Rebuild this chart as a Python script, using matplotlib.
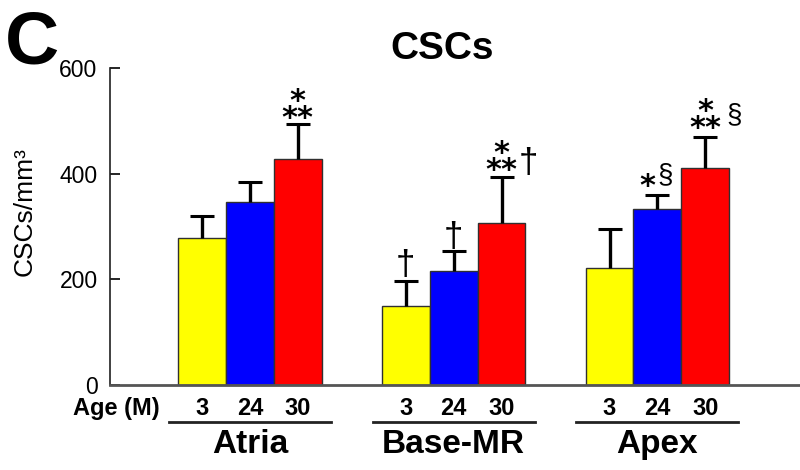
import matplotlib
matplotlib.use('Agg')
import matplotlib.pyplot as plt
import matplotlib.transforms as mtrans
import numpy as np

plt.rcParams['font.family'] = ['Liberation Sans', 'DejaVu Sans']

# ---- data ----
regions = ['Atria', 'Base-MR', 'Apex']
ages = ['3', '24', '30']
age3_mean = [278, 150, 221]
age3_err = [42, 47, 74]
age24_mean = [346, 216, 333]
age24_err = [38, 38, 27]
age30_mean = [428, 307, 411]
age30_err = [66, 87, 58]
bar_colors = ['#FFFF00', '#0000FF', '#FF0000']
yticks = [0, 200, 400, 600]

# significance marks: (region index, age index, text, dx px, dy px, kind)
marks = [
    (0, 2, '*\n**', 0, -9, 'ast2'),
    (1, 0, '\u2020', 0, 6, 'dag'),
    (1, 1, '\u2020', 0, 4, 'dag'),
    (1, 2, '*\n**', 0, -8, 'ast2'),
    (1, 2, '\u2020', 27, 4, 'dag'),
    (2, 1, '*', -10, 0, 'ast'),
    (2, 1, '\u00a7', 8, 13, 'sec'),
    (2, 2, '*\n**', 0, -6, 'ast2'),
    (2, 2, '\u00a7', 29, 15, 'sec'),
]

means = [age3_mean, age24_mean, age30_mean]
errs = [age3_err, age24_err, age30_err]

fig = plt.figure(figsize=(8, 4.7), dpi=100)
ax = fig.add_axes([0.1375, 0.1809, 0.8625, 0.6745])

w = 0.235
x = np.arange(len(regions))
tick_pos = []
tick_lab = []
tops_all = []
centers_all = []
for j in range(3):
    xs = x + (j - 1) * w
    vals = np.array(means[j])
    tops = vals + np.array(errs[j])
    ax.bar(xs, vals, w, color=bar_colors[j], edgecolor='#303030', linewidth=1.0, zorder=2)
    ax.vlines(xs, vals, tops, color='black', lw=2.4, zorder=3)
    ax.plot(xs, tops, ls='none', marker='_', ms=17, mew=2.2, color='black', zorder=3)
    tops_all.append(tops)
    centers_all.append(xs)

for i in range(len(regions)):
    for j in range(3):
        tick_pos.append(x[i] + (j - 1) * w)
        tick_lab.append(ages[j])

ax.set_xlim(-0.687, 2.70)
ax.set_ylim(0, 600)
for s in ['top', 'right']:
    ax.spines[s].set_visible(False)
ax.spines['left'].set_linewidth(1.2)
ax.spines['left'].set_color('#202020')
ax.spines['bottom'].set_linewidth(2.0)
ax.spines['bottom'].set_color('#555555')

ax.set_yticks(yticks)
ax.set_yticklabels([str(v) for v in yticks])
ax.tick_params(axis='y', direction='in', length=7, width=1.2, labelsize=16.5, pad=9)
ax.set_xticks(tick_pos)
ax.set_xticklabels(tick_lab, fontweight='bold', fontsize=17)
ax.tick_params(axis='x', length=0, pad=9)

blend = mtrans.blended_transform_factory(ax.transData, ax.transAxes)
for i, name in enumerate(regions):
    x0 = x[i] - 1.5 * w - 0.045
    x1 = x[i] + 1.5 * w + 0.045
    ax.plot([x0, x1], [-0.1167, -0.1167], transform=blend, color='#222222', lw=2.0, clip_on=False)
    ax.text(x[i], -0.2145, name, transform=blend, ha='center', va='baseline',
            fontsize=24, fontweight='bold')

for (gi, aj, txt, dx, dy, kind) in marks:
    xp = centers_all[aj][gi]
    yp = tops_all[aj][gi]
    off = (dx * 0.72, dy * 0.72)
    if kind == 'ast2':
        ax.annotate(txt, (xp, yp), xytext=off, textcoords='offset points',
                    ha='center', va='bottom', multialignment='center', linespacing=0.485,
                    fontsize=22, fontweight='bold', family='DejaVu Sans', annotation_clip=False)
    elif kind == 'ast':
        ax.annotate(txt, (xp, yp), xytext=off, textcoords='offset points',
                    ha='center', va='baseline', fontsize=22, fontweight='bold',
                    family='DejaVu Sans', annotation_clip=False)
    elif kind == 'dag':
        ax.annotate(txt, (xp, yp), xytext=off, textcoords='offset points',
                    ha='center', va='baseline', fontsize=25, annotation_clip=False)
    else:
        ax.annotate(txt, (xp, yp), xytext=off, textcoords='offset points',
                    ha='center', va='baseline', fontsize=20, annotation_clip=False)

fig.text(160 / 800, 1 - 415 / 470, 'Age (M)', ha='right', va='baseline', fontsize=17, fontweight='bold')
fig.text(442 / 800, 1 - 59 / 470, 'CSCs', ha='center', va='baseline', fontsize=28, fontweight='bold')
fig.text(5 / 800, 1 - 64 / 470, 'C', ha='left', va='baseline', fontsize=54, fontweight='bold')
fig.text(25 / 800, 1 - 212 / 470, 'CSCs/mm\u00b3', rotation=90, ha='center', va='center', fontsize=19)

fig.savefig('out.png', dpi=100)
